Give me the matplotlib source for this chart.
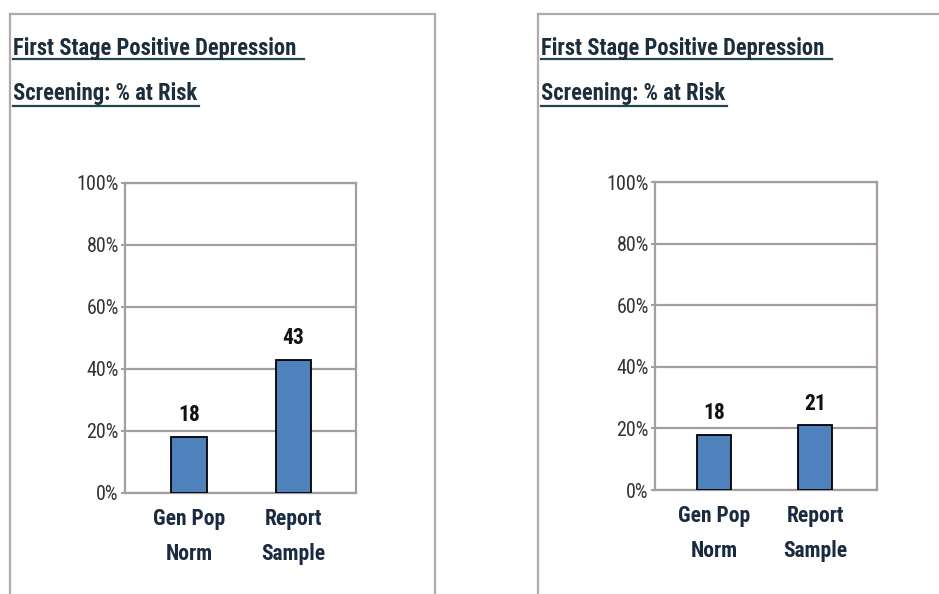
import matplotlib
matplotlib.use('Agg')
import matplotlib.pyplot as plt
from matplotlib.lines import Line2D

# data
categories = ['Gen Pop\nNorm', 'Report\nSample']
left_values = [18, 43]
right_values = [18, 21]
title_lines = ['First Stage Positive Depression ', 'Screening: % at Risk']
yticks = [0, 20, 40, 60, 80, 100]

plt.rcParams['font.family'] = ['Roboto Condensed', 'DejaVu Sans']

W, H = 939, 594
fig = plt.figure(figsize=(W / 100, H / 100), dpi=100)

def fx(px):
    return px / W

def fy(py):
    return 1 - py / H

grid_col = '#a59d9d'
title_col = '#1c2e3c'
bar_col = '#4f81bd'

def panel(x0, x1, ax_box, xlim, values, width):
    # panel frame
    for xs, ys in [([x0, x1], [14, 14]), ([x0, x0], [14, 600]), ([x1, x1], [14, 600])]:
        fig.add_artist(Line2D([fx(v) for v in xs], [fy(v) for v in ys],
                              color='#b2aaaa', lw=1.6, transform=fig.transFigure))
    # titles with underline
    for txt, base, ul in [(title_lines[0], 55, 59), (title_lines[1], 100, 106)]:
        t = fig.text(fx(x0 + 3), fy(base), txt, fontsize=16.3, fontweight='bold',
                     color=title_col, va='baseline', ha='left')
        fig.canvas.draw()
        bb = t.get_window_extent()
        fig.add_artist(Line2D([fx(x0 + 3), fx(bb.x1 + 2)], [fy(ul), fy(ul)],
                              color='#24444f', lw=1.6, transform=fig.transFigure))

    ax = fig.add_axes(ax_box)
    x = list(range(len(values)))
    bars = ax.bar(x, values, width=width, color=bar_col, edgecolor='black',
                  linewidth=1.3, zorder=3)
    for b, v in zip(bars, values):
        ax.text(b.get_x() + b.get_width() / 2, v + 3.5, str(v), ha='center', va='bottom',
                fontsize=15.5, fontweight='bold', color='#111111')
    ax.set_ylim(0, 100)
    ax.set_xlim(*xlim)
    ax.set_yticks(yticks)
    ax.set_yticklabels([f'{v}%' for v in yticks], fontsize=14.5, color='#333333')
    ax.yaxis.grid(True, color=grid_col, lw=1.6, zorder=0)
    ax.set_xticks(x)
    ax.set_xticklabels(categories, fontsize=15.5, fontweight='bold', color='#1a2a40',
                       linespacing=1.75)
    ax.tick_params(axis='x', length=0, pad=11)
    ax.tick_params(axis='y', length=3, width=1.4, color=grid_col, pad=1.5)
    for s in ax.spines.values():
        s.set_color(grid_col)
        s.set_linewidth(1.6)
    return ax

panel(10, 435, [fx(125), fy(493), fx(231), 310 / H], (-0.612, 1.598), left_values, 0.34)
panel(538, 945, [fx(655), fy(490), fx(222), 308 / H], (-0.581, 1.606), right_values, 0.335)

fig.savefig('out.png', dpi=100)
